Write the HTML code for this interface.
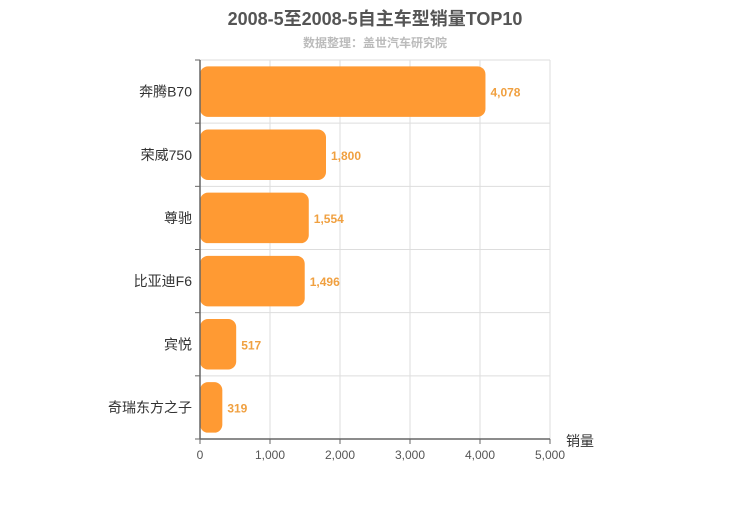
<!DOCTYPE html>
<html><head><meta charset="utf-8"><style>
body{margin:0;background:#fff;font-family:"Liberation Sans","Noto Sans CJK SC",sans-serif}
</style></head><body>
<svg width="750" height="500" id="c" font-family="Liberation Sans, Noto Sans CJK SC, sans-serif">
<text x="375" y="25" text-anchor="middle" font-size="18" font-weight="bold" fill="#555">2008-5至2008-5自主车型销量TOP10</text>
<text x="375" y="47" text-anchor="middle" font-size="12" font-weight="bold" fill="#bbb">数据整理：盖世汽车研究院</text>
<g id="grid"></g><g id="bars"></g><g id="axes"></g>
<text x="566" y="446" font-size="14" fill="#333">销量</text>
</svg>
<script>
const categories=["奔腾B70","荣威750","尊驰","比亚迪F6","宾悦","奇瑞东方之子"];
const values=[4078,1800,1554,1496,517,319];
const ticks=[0,1000,2000,3000,4000,5000];
const tickLabels=["0","1,000","2,000","3,000","4,000","5,000"];
const NS="http://www.w3.org/2000/svg";
const X0=200,X1=550,Y0=60,Y1=439,MAX=5000;
const band=(Y1-Y0)/categories.length;
const xs=v=>X0+(X1-X0)*v/MAX;
function mk(t,a,p){const e=document.createElementNS(NS,t);for(const k in a)e.setAttribute(k,a[k]);p.appendChild(e);return e;}
const g=document.getElementById('grid'),b=document.getElementById('bars'),ax=document.getElementById('axes');
ticks.forEach((t,i)=>{
 if(i>0){const l=mk('line',{x1:xs(t),x2:xs(t),y1:Y0,y2:Y1,stroke:'#ddd'},g);
 
 }
 mk('line',{x1:xs(t),x2:xs(t),y1:Y1,y2:Y1+5,stroke:'#666'},ax);
 const tx=mk('text',{x:xs(t),y:Y1+20,'text-anchor':'middle','font-size':12,fill:'#555'},ax);
 tx.textContent=tickLabels[i];
 
 
});
for(let i=1;i<categories.length;i++){const l=mk('line',{x1:X0,x2:X1,y1:Y0+band*i,y2:Y0+band*i,stroke:'#ddd'},g);
 
 }
mk('line',{x1:X0,x2:X1,y1:Y0,y2:Y0,stroke:'#ddd'},g);
for(let i=0;i<=categories.length;i++)mk('line',{x1:X0-5,x2:X0,y1:Y0+band*i,y2:Y0+band*i,stroke:'#666'},ax);
mk('line',{x1:X0,x2:X0,y1:Y0,y2:Y1,stroke:'#666','stroke-width':1.5},ax);
mk('line',{x1:X0,x2:X1,y1:Y1,y2:Y1,stroke:'#666','stroke-width':1.5},ax);
categories.forEach((c,i)=>{
 const cy=Y0+band*(i+0.5),h=band*0.8;
 const r=mk('rect',{x:X0,y:cy-h/2,width:xs(values[i])-X0,height:h,rx:8,fill:'#ff9a33'},b);
 
 
 const v=mk('text',{x:xs(values[i])+5,y:cy+5,'font-size':12,'font-weight':'bold',fill:'#f0a040'},b);
 v.textContent=values[i].toLocaleString('en-US');
 
 
 const l=mk('text',{x:X0-8,y:cy+5,'text-anchor':'end','font-size':14,fill:'#333'},ax);
 l.textContent=c;
 
 
});
</script>
</body></html>
